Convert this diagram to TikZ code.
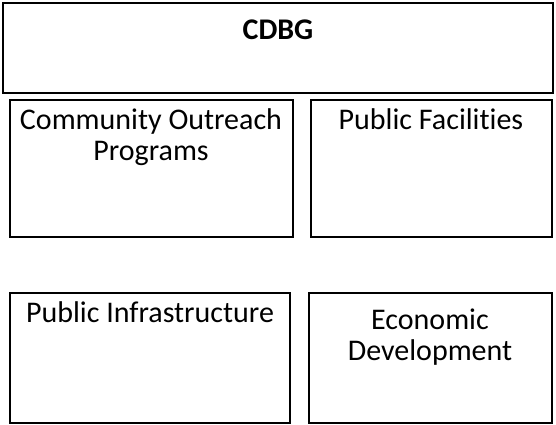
\documentclass[tikz,border=0pt]{standalone}
\usepackage{fontspec}
\setmainfont{Carlito}[Ligatures=NoCommon]
\begin{document}
\begin{tikzpicture}[x=1pt,y=-1pt,
  box/.style={draw=black,line width=2pt},
  lbl/.style={anchor=north,align=center,font=\fontsize{30}{31}\selectfont,inner sep=0pt}]
\useasboundingbox (0,0) rectangle (556,424);
\draw[box] (3,3) rectangle (553,93);
\node[lbl,font=\fontsize{30}{31}\selectfont\bfseries] (cdbg) at (278,20) {CDBG};
\draw[box] (10,100) rectangle (293,237);
\node[lbl] (cop) at (151,108) {Community Outreach\\Programs};
\draw[box] (311,100) rectangle (552,237);
\node[lbl] (pf) at (431,108) {Public Facilities};
\draw[box] (10,293) rectangle (290,423);
\node[lbl] (pi) at (150,301) {Public Infrastructure};
\draw[box] (309,293) rectangle (552,423);
\node[lbl] (ed) at (430,309) {Economic\\Development};
\end{tikzpicture}
\end{document}
